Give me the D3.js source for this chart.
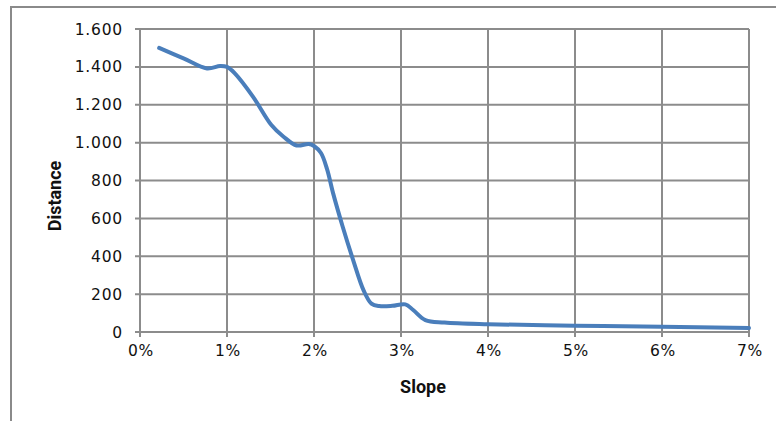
<!DOCTYPE html>
<html><head><meta charset="utf-8">
<script src="https://cdn.jsdelivr.net/npm/d3@7"></script>
<style>html,body{margin:0;padding:0;background:#fff;}svg{display:block;}</style>
</head><body>
<script>
const slope = [0.22,0.5,0.77,0.92,1.0,1.09,1.3,1.51,1.65,1.8,1.94,2.0,2.08,2.15,2.22,2.33,2.45,2.57,2.66,2.75,2.9,3.05,3.14,3.28,3.5,4,5,6,7];
const distance = [1500,1445,1392,1405,1400,1366,1242,1093,1031,985,993,982,945,860,732,556,380,220,150,137,138,146,116,63,50,41,33,28,21];
const yTicks = [0,200,400,600,800,1000,1200,1400,1600];
const xTicks = [0,1,2,3,4,5,6,7];
const xTitle = "Slope", yTitle = "Distance";

const W=776,H=421;
const svg=d3.select("body").append("svg").attr("width",W).attr("height",H);
svg.append("rect").attr("x",11).attr("y",7).attr("width",W).attr("height",H).attr("fill","#fff").attr("stroke","#8a8a8a").attr("stroke-width",2);

const x=d3.scaleLinear().domain([0,7]).range([140,749]);
const y=d3.scaleLinear().domain([0,1600]).range([332,29]);
const grid="#8c8c8c";
const fmt=d=>d3.format(",")(d).replace(/,/g,".");

svg.append("g").selectAll("line").data(yTicks).join("line")
 .attr("x1",135).attr("x2",749).attr("y1",d=>y(d)).attr("y2",d=>y(d)).attr("stroke",grid).attr("stroke-width",2);
svg.append("g").selectAll("line").data(xTicks).join("line")
 .attr("y1",29).attr("y2",337).attr("x1",d=>x(d)).attr("x2",d=>x(d)).attr("stroke",grid).attr("stroke-width",2);

svg.append("g").selectAll("text").data(yTicks).join("text")
 .attr("x",123).attr("y",d=>y(d)).attr("dy","0.36em").attr("text-anchor","end")
 .attr("font-family","DejaVu Sans").attr("font-size",15.5).attr("letter-spacing",0.8).attr("fill","#111").text(fmt);
svg.append("g").selectAll("text").data(xTicks).join("text")
 .attr("x",d=>x(d)+1).attr("y",356).attr("text-anchor","middle")
 .attr("font-family","DejaVu Sans").attr("font-size",15.5).attr("letter-spacing",0.8).attr("fill","#111").text(d=>d+"%");

svg.append("text").attr("x",423).attr("y",393).attr("text-anchor","middle")
 .attr("font-family","Roboto").attr("font-weight","bold").attr("font-size",18).attr("fill","#111").text(xTitle);
svg.append("text").attr("transform","translate(61,196) rotate(-90)").attr("text-anchor","middle")
 .attr("font-family","Roboto").attr("font-weight","bold").attr("font-size",18).attr("fill","#111").text(yTitle);

const line=d3.line().x((d,i)=>x(slope[i])).y(d=>y(d)).curve(d3.curveCatmullRom.alpha(0.5));
svg.append("path").attr("d",line(distance)).attr("fill","none").attr("stroke","#4a7ebb").attr("stroke-width",4).attr("stroke-linecap","round").attr("stroke-linejoin","round");
</script>
</body></html>
